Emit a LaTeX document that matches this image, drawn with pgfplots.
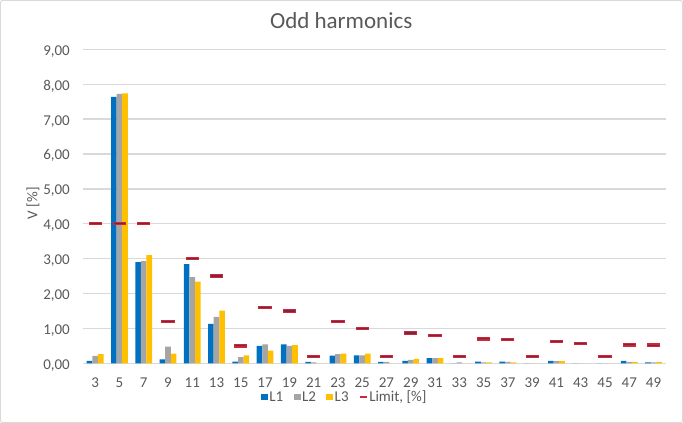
\documentclass[border=0pt]{standalone}
\usepackage{fontspec}
\setmainfont{Carlito}
\usepackage{pgfplots}
\pgfplotsset{compat=1.18}
\definecolor{cL1}{RGB}{0,112,192}
\definecolor{cL2}{RGB}{165,165,165}
\definecolor{cL3}{RGB}{255,192,0}
\definecolor{limout}{RGB}{205,40,55}
\definecolor{limin}{RGB}{125,35,70}
\definecolor{txt}{RGB}{89,89,89}
\definecolor{grd}{RGB}{217,217,217}
\pgfplotstableread{
x L1 L2 L3 Lim
0 0.07 0.21 0.26 4.00
1 7.64 7.72 7.74 4.00
2 2.90 2.93 3.10 4.00
3 0.11 0.48 0.28 1.20
4 2.84 2.47 2.34 3.00
5 1.13 1.33 1.51 2.50
6 0.05 0.18 0.23 0.50
7 0.50 0.54 0.36 1.60
8 0.54 0.50 0.52 1.50
9 0.04 0.03 0.00 0.20
10 0.22 0.26 0.28 1.20
11 0.23 0.23 0.28 1.00
12 0.04 0.04 0.00 0.20
13 0.07 0.10 0.13 0.87
14 0.15 0.15 0.15 0.80
15 0.00 0.03 0.00 0.20
16 0.05 0.03 0.03 0.70
17 0.05 0.04 0.03 0.68
18 0.00 0.00 0.00 0.20
19 0.07 0.06 0.06 0.62
20 0.00 0.00 0.00 0.57
21 0.00 0.00 0.00 0.20
22 0.07 0.04 0.04 0.53
23 0.03 0.03 0.04 0.52
}\data
\begin{document}
\begin{tikzpicture}
\useasboundingbox (0,0) rectangle (683bp,423bp);
\draw[grd, line width=1bp, rounded corners=2bp] (0.5bp,0.5bp) rectangle (682.5bp,422.5bp);
\begin{axis}[
  at={(83bp,59.7bp)}, anchor=south west,
  scale only axis, width=582.7bp, height=314bp,
  xmin=-0.5, xmax=23.5, ymin=0, ymax=9,
  xtick={0,...,23},
  xticklabels={3,5,7,9,11,13,15,17,19,21,23,25,27,29,31,33,35,37,39,41,43,45,47,49},
  ytick={0,1,...,9},
  /pgf/number format/assume math mode=true,
  yticklabel style={/pgf/number format/fixed, /pgf/number format/fixed zerofill,
    /pgf/number format/precision=2, /pgf/number format/use comma},
  ticklabel style={font=\fontsize{15bp}{18bp}\selectfont, text=txt},
  xticklabel style={anchor=base, yshift=-24bp},
  yticklabel style={anchor=base east, inner sep=0pt, xshift=-13bp, yshift=-6bp},
  major tick length=0pt,
  axis line style={draw=none},
  ymajorgrids, grid style={grd, line width=1.3bp},
  title={Odd harmonics},
  title style={font=\fontsize{23bp}{27bp}\selectfont, text=txt,
    at={(axis description cs:0.4431,1.071)}, anchor=center},
  ylabel={V [\%]},
  ylabel style={font=\fontsize{15bp}{18bp}\selectfont, text=txt,
    at={(axis description cs:-0.0858,0.51)}, anchor=center},
  legend columns=-1,
  legend style={at={(axis description cs:0.4488,-0.1073)}, anchor=center,
    draw=none, fill=none, font=\fontsize{15bp}{18bp}\selectfont, text=txt,
    nodes={inner xsep=1.5bp, inner ysep=1bp},
    /tikz/every even column/.append style={column sep=9bp}},
]
\addplot[ybar, bar width=5.6bp, bar shift=-5.6bp, fill=cL1, draw=none,
  legend image code/.code={\fill[cL1] (0bp,-3.4bp) rectangle (6.8bp,3.4bp);}]
  table[x=x, y=L1] {\data};
\addlegendentry{L1}
\addplot[ybar, bar width=5.6bp, bar shift=0bp, fill=cL2, draw=none,
  legend image code/.code={\fill[cL2] (0bp,-3.4bp) rectangle (6.8bp,3.4bp);}]
  table[x=x, y=L2] {\data};
\addlegendentry{L2}
\addplot[ybar, bar width=5.6bp, bar shift=5.6bp, fill=cL3, draw=none,
  legend image code/.code={\fill[cL3] (0bp,-3.4bp) rectangle (6.8bp,3.4bp);}]
  table[x=x, y=L3] {\data};
\addlegendentry{L3}
\addplot[only marks, mark=-, mark size=6.6bp, mark options={draw=limout, line width=3.4bp},
  legend image code/.code={\draw[limout, line width=1.6bp] (0bp,0bp) -- (7bp,0bp);}]
  table[x=x, y=Lim] {\data};
\addlegendentry{Limit, [\%]}
\addplot[only marks, mark=-, mark size=5.6bp, mark options={draw=limin, line width=1.2bp}, forget plot]
  table[x=x, y=Lim] {\data};
\end{axis}
\end{tikzpicture}
\end{document}
